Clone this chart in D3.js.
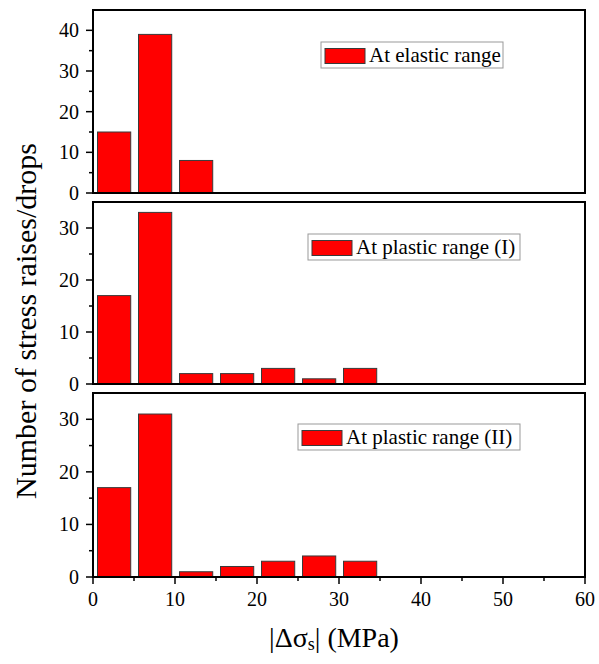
<!DOCTYPE html>
<html>
<head>
<meta charset="utf-8">
<script src="https://d3js.org/d3.v7.min.js"></script>
<style>
  body { margin: 0; font-family: "Times New Roman", "Liberation Serif", serif; }
  svg text { font-family: "Times New Roman", "Liberation Serif", serif !important; }
</style>
</head>
<body>
<script>
// bin left edges (MPa), 5 MPa wide
var binStarts = [0, 5, 10, 15, 20, 25, 30];
var elasticCounts = [15, 39, 8];
var plasticICounts = [17, 33, 2, 2, 3, 1, 3];
var plasticIICounts = [17, 31, 1, 2, 3, 4, 3];
var legendLabels = ["At elastic range", "At plastic range (I)", "At plastic range (II)"];
var xTicks = [0, 10, 20, 30, 40, 50, 60];

var fontFam = "Times New Roman";
var width = 599, height = 664;
var svg = d3.select("body").append("svg")
    .attr("width", width)
    .attr("height", height)
    .attr("font-family", fontFam);

var x = d3.scaleLinear().domain([0, 60]).range([93, 585]);

// panel layout: top, bottom pixel, y max, ticks, legend box
var panels = [
    {counts: elasticCounts, top: 10, bottom: 193, yMax: 45, ticks: [0, 10, 20, 30, 40],
     label: legendLabels[0], lx: 321, ly: 42, lw: 182},
    {counts: plasticICounts, top: 202, bottom: 384, yMax: 35, ticks: [0, 10, 20, 30],
     label: legendLabels[1], lx: 308, ly: 234, lw: 212},
    {counts: plasticIICounts, top: 393, bottom: 577, yMax: 35, ticks: [0, 10, 20, 30],
     label: legendLabels[2], lx: 298, ly: 424, lw: 222}
];

panels.forEach(function (p, pi) {
    var y = d3.scaleLinear().domain([0, p.yMax]).range([p.bottom, p.top]);
    var g = svg.append("g");

    // bars
    g.selectAll("rect.bar")
        .data(p.counts)
        .enter()
        .append("rect")
        .attr("class", "bar")
        .attr("x", function (d, i) { return x(binStarts[i] + 0.55); })
        .attr("width", function (d, i) { return x(binStarts[i] + 4.6) - x(binStarts[i] + 0.55); })
        .attr("y", function (d) { return y(d); })
        .attr("height", function (d) { return y(0) - y(d); })
        .attr("fill", "#ff0000")
        .attr("stroke", "#3a3a3a")
        .attr("stroke-width", 1);

    // y axis
    var yMinor = d3.range(5, p.yMax, 10);
    g.selectAll("line.ymin")
        .data(yMinor)
        .enter()
        .append("line")
        .attr("x1", x(0) - 4).attr("x2", x(0))
        .attr("y1", function (d) { return y(d); })
        .attr("y2", function (d) { return y(d); })
        .attr("stroke", "#000").attr("stroke-width", 1.5);
    g.selectAll("line.ymaj")
        .data(p.ticks)
        .enter()
        .append("line")
        .attr("x1", x(0) - 7).attr("x2", x(0))
        .attr("y1", function (d) { return y(d); })
        .attr("y2", function (d) { return y(d); })
        .attr("stroke", "#000").attr("stroke-width", 1.5);
    g.selectAll("text.ylab")
        .data(p.ticks)
        .enter()
        .append("text")
        .attr("x", x(0) - 14)
        .attr("y", function (d) { return y(d); })
        .attr("dy", "0.35em")
        .attr("text-anchor", "end")
        .attr("font-size", "20px")
        .text(function (d) { return d; });

    // frame
    g.append("rect")
        .attr("x", x(0))
        .attr("y", p.top)
        .attr("width", x(60) - x(0))
        .attr("height", p.bottom - p.top)
        .attr("fill", "none")
        .attr("stroke", "#000")
        .attr("stroke-width", 2);

    // legend
    g.append("rect")
        .attr("x", p.lx).attr("y", p.ly)
        .attr("width", p.lw).attr("height", 26)
        .attr("fill", "#fff")
        .attr("stroke", "#999").attr("stroke-width", 1);
    g.append("rect")
        .attr("x", p.lx + 4).attr("y", p.ly + 6.5)
        .attr("width", 40).attr("height", 15)
        .attr("fill", "#ff0000")
        .attr("stroke", "#3a3a3a").attr("stroke-width", 1);
    g.append("text")
        .attr("x", p.lx + 48)
        .attr("y", p.ly + 20)
        .attr("font-size", "21px")
        .text(p.label);

    // x ticks only on bottom panel
    if (pi === panels.length - 1) {
        var xMinor = d3.range(5, 60, 10);
        g.selectAll("line.xmin")
            .data(xMinor)
            .enter()
            .append("line")
            .attr("x1", function (d) { return x(d); })
            .attr("x2", function (d) { return x(d); })
            .attr("y1", p.bottom).attr("y2", p.bottom + 4)
            .attr("stroke", "#000").attr("stroke-width", 1.5);
        g.selectAll("line.xmaj")
            .data(xTicks)
            .enter()
            .append("line")
            .attr("x1", function (d) { return x(d); })
            .attr("x2", function (d) { return x(d); })
            .attr("y1", p.bottom).attr("y2", p.bottom + 7)
            .attr("stroke", "#000").attr("stroke-width", 1.5);
        g.selectAll("text.xlab")
            .data(xTicks)
            .enter()
            .append("text")
            .attr("x", function (d) { return x(d); })
            .attr("y", p.bottom + 29)
            .attr("text-anchor", "middle")
            .attr("font-size", "20px")
            .text(function (d) { return d; });
    }
});

// axis titles
svg.append("text")
    .attr("transform", "translate(36,321) rotate(-90)")
    .attr("text-anchor", "middle")
    .attr("font-size", "30px")
    .text("Number of stress raises/drops");

var xt = svg.append("text")
    .attr("x", 334)
    .attr("y", 647)
    .attr("text-anchor", "middle")
    .attr("font-size", "28px");
xt.append("tspan").text("|Δσ");
xt.append("tspan").attr("font-size", "18px").attr("dy", 3).text("s");
xt.append("tspan").attr("dy", -3).text("| (MPa)");
</script>
</body>
</html>
